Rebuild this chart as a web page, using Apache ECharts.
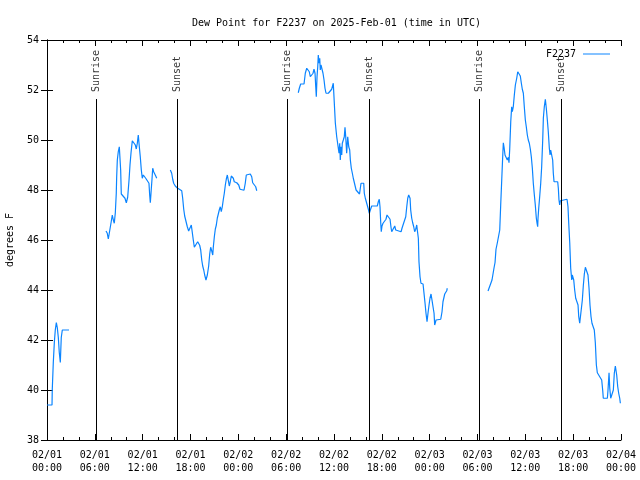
<!DOCTYPE html>
<html>
<head>
<meta charset="utf-8">
<script src="https://cdn.jsdelivr.net/npm/echarts@6/dist/echarts.min.js"></script>
<style>html,body{margin:0;padding:0;background:#fff}#chart{width:640px;height:480px}</style>
</head>
<body>
<div id="chart"></div>
<script>
// Hours since 2025-02-01 00:00 UTC, dew point in degrees F, split where the record has gaps
const seg1Hours = [0.00,0.63,0.66,0.79,0.92,1.04,1.17,1.29,1.42,1.54,1.67,1.79,1.92,2.76];
const seg1DewF  = [39.4,39.4,40.0,41.1,41.9,42.4,42.7,42.5,42.1,41.5,41.1,42.1,42.4,42.4];

const seg2Hours = [7.40,7.56,7.69,7.94,8.07,8.19,8.32,8.44,8.57,8.69,8.74,8.82,8.94,9.07,9.16,9.24,9.32,9.57,9.78,9.95,10.12,10.29,10.41,10.54,10.70,10.95,11.08,11.20,11.33,11.45,11.58,11.70,11.83,11.95,12.08,12.21,12.38,12.63,12.79,12.88,12.96,13.05,13.17,13.26,13.38,13.51,13.64,13.76];
const seg2DewF  = [46.36,46.27,46.04,46.04,46.76,47.0,46.8,46.67,47.09,47.87,48.53,49.2,49.53,49.73,49.8,48.8,47.84,47.84,47.67,47.49,47.71,48.4,49.0,49.49,49.97,49.97,49.8,49.64,49.87,50.2,49.73,49.33,48.8,48.47,48.6,48.53,48.47,48.47,48.27,47.8,47.49,47.89,48.43,48.87,48.73,48.67,48.56,48.47];

const seg3Hours = [15.47,15.64,15.77,15.89,16.09,16.35,16.60,16.90,17.02,17.15,17.27,17.44,17.60,17.77,17.98,18.10,18.23,18.35,18.48,18.73,18.90,19.03,19.15,19.28,19.41,19.53,19.66,19.78,19.94,20.11,20.28,20.41,20.53,20.66,20.79,20.86,20.99,21.11,21.24,21.36,21.49,21.61,21.74,21.86,21.99,22.12,22.24,22.37,22.49,22.62,22.74,22.87,22.99,23.12,23.24,23.37,23.49,23.80,24.05,24.21,24.37,24.71,24.87,25.00,25.25,25.50,25.68,25.80,26.05,26.18,26.31];
const seg3DewF  = [48.8,48.67,48.43,48.27,48.16,48.08,48.03,47.97,47.67,47.23,46.96,46.91,46.53,46.36,46.36,46.6,46.67,46.0,45.71,45.71,45.93,46.0,45.79,45.6,45.2,44.96,44.8,44.6,44.4,44.6,44.96,45.44,45.71,45.57,45.4,45.71,46.13,46.43,46.6,46.87,47.04,47.2,47.33,47.13,47.33,47.63,47.87,48.2,48.43,48.6,48.64,48.16,48.33,48.56,48.64,48.47,48.33,48.29,48.2,48.03,47.99,47.99,48.27,48.6,48.64,48.64,48.53,48.29,48.27,48.13,47.97];

const seg4Hours = [31.52,31.65,31.82,32.24,32.40,32.58,32.78,32.90,33.03,33.24,33.37,33.49,33.62,33.71,33.78,33.87,33.96,34.03,34.12,34.21,34.28,34.37,34.50,34.62,34.75,34.87,35.00,35.29,35.50,35.71,35.91,36.13,36.17,36.34,36.54,36.63,36.72,36.79,36.88,36.97,37.04,37.17,37.29,37.38,37.47,37.59,37.72,37.85,37.97,38.05,38.17,38.30,38.42,38.77,39.20,39.39,39.60,39.73,39.80,39.93,40.18,40.31,40.43,40.56,40.73,41.43,41.56,41.68,41.77,41.86,41.93,42.02,42.15,42.40,42.52,42.65,42.90,43.03,43.15,43.24,43.44,43.62,43.74,43.90,44.41,44.53,44.66,44.87,45.00,45.12,45.25,45.37,45.45,45.54,45.62,45.75,45.87,46.00,46.12,46.25,46.38,46.45,46.58,46.66,46.79,46.91,47.17,47.29,47.42,47.54,47.67,47.79,47.92,48.04,48.17,48.29,48.42,48.55,48.63,48.71,48.80,48.96,49.39,49.55,49.67,49.89,50.05,50.14,50.21];
const seg4DewF  = [51.89,52.07,52.24,52.24,52.67,52.87,52.87,52.73,52.53,52.53,52.67,52.83,52.67,52.13,51.73,52.53,52.93,53.4,53.07,53.27,52.8,53.0,53.07,52.67,52.4,52.07,51.87,51.87,51.89,52.03,52.27,52.27,50.67,50.13,50.13,49.47,49.87,49.2,49.73,49.4,49.87,50.0,50.13,50.51,50.13,49.47,50.13,49.73,49.6,49.2,48.87,48.67,48.47,48.0,47.84,48.27,48.31,48.27,47.87,47.67,47.67,47.23,47.07,47.2,47.36,47.36,47.53,47.63,47.33,46.69,46.33,46.56,46.67,46.69,46.83,47.0,47.0,46.83,46.51,46.33,46.33,46.56,46.4,46.33,46.33,46.47,46.6,46.6,46.93,47.31,47.67,47.8,47.87,47.67,47.2,46.87,46.69,46.53,46.33,46.43,46.6,46.4,46.07,45.13,44.53,44.27,44.24,43.87,43.47,43.07,42.73,43.07,43.4,43.67,43.84,43.6,43.33,43.07,42.6,42.67,42.8,42.83,42.83,43.13,43.53,43.84,43.89,43.97,44.07];

const seg5Hours = [55.32,55.57,55.82,56.07,56.20,56.32,56.49,56.70,56.79,56.91,57.04,57.16,57.24,57.33,57.45,57.58,57.74,57.87,57.95,58.04,58.17,58.29,58.37,58.49,58.62,58.75,58.92,59.05,59.25,59.37,59.50,59.62,59.75,59.87,60.00,60.12,60.25,60.37,60.50,60.63,60.75,60.88,61.00,61.13,61.25,61.38,61.47,61.55,61.59,61.68,61.80,61.93,62.05,62.18,62.26,62.38,62.51,62.63,62.76,62.88,63.01,63.10,63.18,63.31,63.43,63.51,63.60,64.06,64.14,64.22,64.31,64.39,64.56,65.23,65.35,65.44,65.57,65.69,65.82,65.89,65.98,66.07,66.19,66.32,66.48,66.61,66.70,66.82,67.02,67.15,67.27,67.40,67.53,67.74,67.86,67.99,68.11,68.24,68.36,68.53,68.65,68.78,68.91,69.03,69.28,69.58,69.71,69.78,70.29,70.37,70.50,70.59,70.71,70.91,71.04,71.16,71.29,71.38,71.46,71.59,71.71,71.84,71.92];
const seg5DewF  = [43.96,43.96,44.4,44.88,45.1,45.63,45.89,45.89,46.4,47.4,48.4,49.33,49.89,49.71,49.4,49.31,49.2,49.31,49.09,49.63,50.73,51.33,51.13,51.33,51.8,52.2,52.47,52.73,52.73,52.56,52.27,52.03,51.87,51.33,50.8,50.53,50.2,50.0,49.87,49.63,49.33,48.87,48.27,47.8,47.4,46.87,46.67,46.53,46.87,47.27,47.73,48.27,48.93,50.0,50.87,51.33,51.63,51.27,50.8,50.33,49.67,49.4,49.6,49.67,49.2,48.67,48.33,48.33,48.07,47.6,47.4,47.57,47.63,47.63,47.33,46.69,45.89,44.87,44.4,44.6,44.67,44.4,44.0,43.67,43.67,43.4,42.93,42.67,42.67,43.6,44.16,44.64,44.91,44.91,44.6,44.07,43.4,42.93,42.67,42.67,42.4,41.89,41.0,40.69,40.69,40.4,39.97,39.67,39.67,40.0,40.69,40.07,39.67,39.67,40.0,40.67,40.96,40.77,40.6,40.13,39.87,39.67,39.47];

// Sun events (hours since start)
const eventHours  = [6.20, 16.33, 30.15, 40.43, 54.18, 64.48];
const eventLabels = ['Sunrise','Sunset','Sunrise','Sunset','Sunrise','Sunset'];

// Axis ticks
const xTickLabels = ['02/01\n00:00','02/01\n06:00','02/01\n12:00','02/01\n18:00','02/02\n00:00','02/02\n06:00','02/02\n12:00','02/02\n18:00','02/03\n00:00','02/03\n06:00','02/03\n12:00','02/03\n18:00','02/04\n00:00'];
const yMin = 38, yMax = 54, yStep = 2;

const segHours = [seg1Hours, seg2Hours, seg3Hours, seg4Hours, seg5Hours];
const segDew   = [seg1DewF, seg2DewF, seg3DewF, seg4DewF, seg5DewF];
const lineData = [];
segHours.forEach((hs, i) => {
  hs.forEach((h, j) => lineData.push([h, segDew[i][j]]));
  if (i < segHours.length - 1) lineData.push([hs[hs.length - 1] + 0.01, null]);
});

const FONT = 'DejaVu Sans Mono';
const axisCommon = {
  type: 'value',
  axisLine: { show: true, lineStyle: { color: '#000', width: 1 } },
  splitLine: { show: false },
};
const chart = echarts.init(document.getElementById('chart'), null, { renderer: 'canvas' });
chart.setOption({
  animation: false,
  textStyle: { fontFamily: FONT, color: '#000' },
  title: {
    text: 'Dew Point for F2237 on 2025-Feb-01 (time in UTC)',
    left: 187, top: 13,
    textStyle: { fontFamily: FONT, fontSize: 10, fontWeight: 'normal', color: '#000' }
  },
  legend: {
    data: [{ name: 'F2237', icon: 'rect' }],
    right: 25, top: 44,
    align: 'right',
    itemWidth: 27, itemHeight: 1, itemGap: 5,
    textStyle: { fontFamily: FONT, fontSize: 10, color: '#000', padding: [0, 2, 0, 0] }
  },
  grid: { left: 47, right: 19, top: 40, bottom: 40, containLabel: false, outerBoundsMode: 'none' },
  xAxis: [
    Object.assign({}, axisCommon, {
      position: 'bottom', min: 0, max: 72, interval: 6,
      axisTick: { show: true, inside: true, length: 6, lineStyle: { color: '#000' } },
      minorTick: { show: true, splitNumber: 3, length: 3, lineStyle: { color: '#000' } },
      axisLabel: {
        fontFamily: FONT, fontSize: 10, color: '#000', margin: 9, lineHeight: 13,
        formatter: v => xTickLabels[Math.round(v / 6)]
      }
    }),
    Object.assign({}, axisCommon, {
      position: 'top', min: 0, max: 72, interval: 6,
      axisTick: { show: true, inside: true, length: 6, lineStyle: { color: '#000' } },
      minorTick: { show: true, splitNumber: 3, length: 3, lineStyle: { color: '#000' } },
      axisLabel: { show: false }
    })
  ],
  yAxis: [
    Object.assign({}, axisCommon, {
      position: 'left', min: yMin, max: yMax, interval: yStep,
      name: 'degrees F', nameLocation: 'middle', nameRotate: 90, nameGap: 32,
      nameTextStyle: { fontFamily: FONT, fontSize: 10, color: '#000' },
      axisTick: { show: true, inside: true, length: 6, lineStyle: { color: '#000' } },
      axisLabel: { fontFamily: FONT, fontSize: 10, color: '#000', margin: 8 }
    }),
    Object.assign({}, axisCommon, {
      position: 'right', min: yMin, max: yMax, interval: yStep,
      axisTick: { show: true, inside: true, length: 6, lineStyle: { color: '#000' } },
      axisLabel: { show: false }
    })
  ],
  series: [
    {
      name: 'F2237',
      type: 'line',
      data: lineData,
      symbol: 'none',
      connectNulls: false,
      lineStyle: { color: '#0a84ff', width: 1.2 },
      itemStyle: { color: '#0a84ff' },
      z: 3
    },
    {
      name: 'events',
      type: 'scatter',
      symbolSize: 0,
      data: eventHours.map((h, i) => ({ value: [h, 51.92], name: eventLabels[i] })),
      label: {
        show: true, position: 'inside', rotate: 90, align: 'left', verticalAlign: 'middle',
        formatter: p => p.name, fontFamily: FONT, fontSize: 10, color: '#000'
      },
      markLine: {
        silent: true, symbol: 'none', animation: false,
        label: { show: false },
        lineStyle: { color: '#000', width: 1, type: 'solid' },
        data: eventHours.map(h => [{ coord: [h, yMin] }, { coord: [h, 51.64] }])
      },
      z: 2
    }
  ]
});
</script>
</body>
</html>
